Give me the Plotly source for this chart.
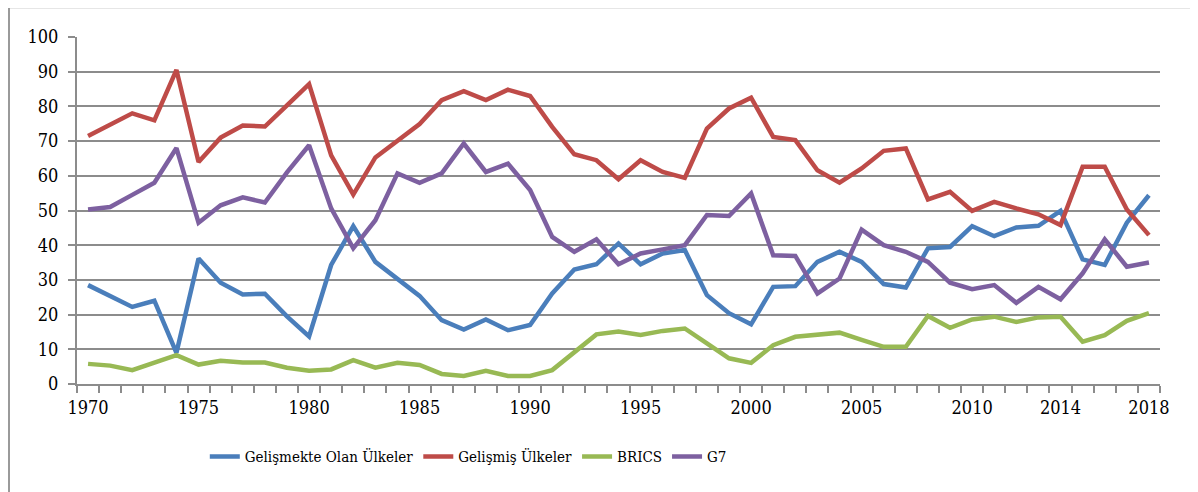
import plotly.graph_objects as go

years = list(range(1970, 2019))

gelismekte = [28.5, 25.3, 22.2, 24.0, 9.0, 36.2, 29.2, 25.8, 26.0, 19.5,
              13.7, 34.3, 45.5, 35.2, 30.4, 25.4, 18.4, 15.7, 18.6, 15.5,
              17.0, 26.1, 33.0, 34.5, 40.5, 34.5, 37.6, 38.6, 25.6, 20.4,
              17.2, 28.0, 28.2, 35.2, 38.1, 35.2, 28.8, 27.8, 39.1, 39.5,
              45.5, 42.6, 45.1, 45.6, 49.9, 35.9, 34.3, 46.5, 54.4]

gelismis = [71.5, 74.8, 78.0, 76.0, 90.5, 64.0, 71.0, 74.5, 74.2, 80.3,
            86.4, 65.9, 54.6, 65.3, 70.3, 74.9, 81.8, 84.4, 81.8, 84.8,
            83.0, 74.1, 66.2, 64.5, 59.0, 64.5, 61.1, 59.4, 73.6, 79.4,
            82.5, 71.2, 70.3, 61.6, 58.0, 62.1, 67.2, 67.9, 53.2, 55.4,
            49.9, 52.5, 50.6, 48.9, 45.8, 62.6, 62.6, 50.3, 42.9]

brics = [5.8, 5.3, 4.0, 6.0, 8.3, 5.6, 6.7, 6.2, 6.2, 4.7,
         3.8, 4.2, 6.9, 4.7, 6.1, 5.5, 2.9, 2.3, 3.8, 2.3,
         2.3, 4.0, 9.3, 14.3, 15.1, 14.1, 15.3, 16.0, 11.7, 7.4,
         6.1, 11.2, 13.6, 14.1, 14.8, 12.7, 10.7, 10.7, 19.6, 16.2,
         18.6, 19.4, 17.9, 19.2, 19.4, 12.2, 14.1, 18.2, 20.4]

g7 = [50.3, 51.0, 54.5, 58.0, 68.0, 46.5, 51.5, 53.8, 52.3, 61.0,
      68.8, 50.6, 39.1, 47.2, 60.7, 58.0, 60.7, 69.3, 61.1, 63.5,
      55.9, 42.4, 38.1, 41.7, 34.5, 37.6, 38.8, 40.0, 48.7, 48.4,
      54.9, 37.1, 36.9, 26.1, 30.4, 44.5, 40.0, 38.1, 35.2, 29.2,
      27.3, 28.5, 23.4, 28.0, 24.4, 31.9, 41.7, 33.8, 35.0]

series_names = ["Gelişmekte Olan Ülkeler", "Gelişmiş Ülkeler", "BRICS", "G7"]
series_colors = ["#4A7EBB", "#BE4B48", "#98B954", "#7D60A0"]
label_years = [1970, 1975, 1980, 1985, 1990, 1995, 2000, 2005, 2010, 2014, 2018]

idx = list(range(len(years)))
fig = go.Figure()
for name, vals, col in zip(series_names, [gelismekte, gelismis, brics, g7], series_colors):
    fig.add_trace(go.Scatter(x=idx, y=vals, mode="lines", name=name,
                             line=dict(color=col, width=4.5)))

font_family = "DejaVu Serif Condensed, DejaVu Serif, serif"
grid_col = "#8C8C8C"

fig.update_layout(
    width=1190, height=484,
    margin=dict(l=69, r=38, t=29, b=108),
    paper_bgcolor="white", plot_bgcolor="white",
    font=dict(family=font_family, size=18, color="black"),
    showlegend=True,
    legend=dict(orientation="h", x=0.118, xanchor="left", y=-0.21, yanchor="middle",
                font=dict(family=font_family, size=15, color="black"),
                tracegroupgap=0),
    xaxis=dict(
        range=[-0.5, len(years) - 0.5],
        tickmode="array",
        tickvals=[years.index(y) for y in label_years],
        ticktext=[str(y) for y in label_years],
        ticks="", showgrid=False, zeroline=False,
        showline=True, linecolor=grid_col, linewidth=2,
        ticklabelstandoff=6,
        tickfont=dict(family=font_family, size=18, color="black"),
        minor=dict(tickmode="array", tickvals=[i - 0.5 for i in range(len(years) + 1)],
                   ticks="outside", ticklen=7, tickwidth=2, tickcolor=grid_col,
                   showgrid=False),
    ),
    yaxis=dict(
        range=[0, 100], tickmode="array", tickvals=list(range(0, 101, 10)),
        showgrid=True, gridcolor=grid_col, gridwidth=2, zeroline=False,
        showline=True, linecolor=grid_col, linewidth=2,
        ticks="outside", ticklen=7, tickwidth=2, tickcolor=grid_col,
        ticklabelstandoff=6,
        tickfont=dict(family=font_family, size=18, color="black"),
    ),
    shapes=[dict(type="rect", xref="paper", yref="paper",
                 x0=(9 - 77) / 1083, x1=1.2, y0=-0.5, y1=(384 - 7) / 347.3,
                 line=dict(color="#9A9A9A", width=2), fillcolor="rgba(0,0,0,0)",
                 layer="below")],
)

fig.write_html("out.html")
